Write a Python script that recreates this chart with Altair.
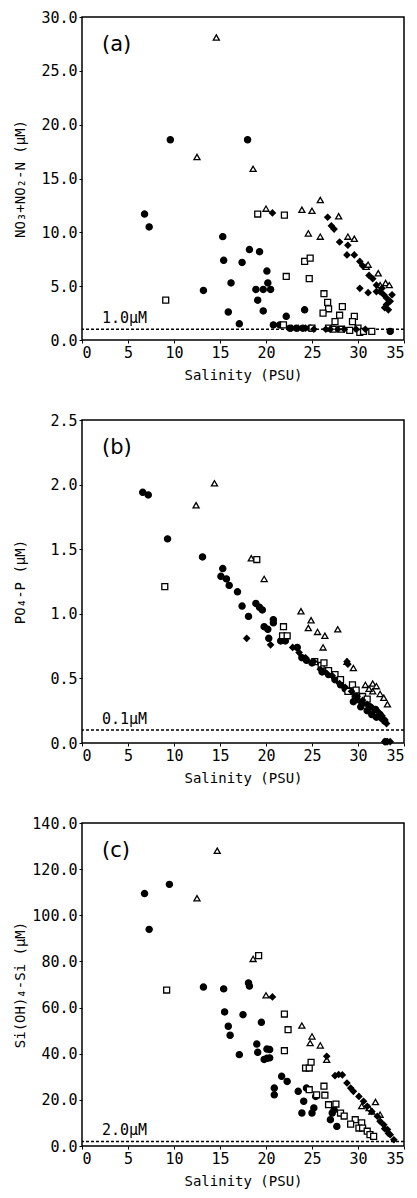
import altair as alt
import pandas as pd

# ---------------- Panel (a): NO3+NO2-N vs salinity ----------------
a_circle = [(6.8, 11.7), (7.3, 10.5), (9.6, 18.6), (18.0, 18.6), (13.2, 4.6), (15.3, 9.6),
            (15.4, 7.4), (16.2, 5.3), (15.9, 2.6), (17.1, 1.5), (17.4, 7.2), (18.2, 8.4),
            (19.3, 8.2), (18.9, 4.7), (19.1, 3.7), (19.7, 2.7), (20.1, 6.4), (19.7, 4.7),
            (20.2, 5.3), (20.5, 4.7), (20.8, 1.4), (21.5, 1.4), (22.2, 2.2), (24.2, 2.8),
            (22.6, 1.1), (23.3, 1.1), (24.0, 1.1), (24.8, 1.1), (33.5, 0.8)]
a_triangle = [(14.6, 28.1), (12.5, 17.0), (18.6, 15.9), (20.0, 12.2), (23.9, 12.1), (25.0, 12.0),
              (25.9, 13.0), (27.9, 11.5), (24.6, 9.9), (25.9, 9.6), (28.9, 9.6), (29.6, 9.4),
              (30.9, 6.8), (31.1, 7.0), (32.2, 6.2), (32.4, 5.1), (33.0, 5.3), (33.4, 5.1)]
a_square = [(9.1, 3.7), (19.1, 11.7), (22.0, 11.6), (22.2, 5.9), (24.2, 7.3), (24.8, 7.6),
            (24.7, 5.7), (26.3, 4.3), (26.7, 3.5), (26.8, 2.9), (26.2, 2.5), (28.3, 3.1),
            (28.0, 2.3), (27.5, 1.7), (29.6, 2.2), (29.4, 1.7), (21.9, 1.4), (25.0, 1.1),
            (26.8, 1.1), (27.3, 1.0), (28.2, 1.0), (29.1, 0.9), (30.0, 1.1), (30.2, 0.7),
            (30.6, 0.8), (31.5, 0.8)]
a_diamond = [(20.7, 11.8), (26.7, 11.4), (27.1, 10.6), (27.4, 10.3), (28.0, 9.1), (28.9, 8.8),
             (28.8, 7.9), (29.6, 7.9), (30.2, 7.3), (30.5, 6.9), (31.2, 6.0), (31.6, 5.7),
             (30.2, 4.8), (31.1, 4.4), (32.0, 5.1), (32.4, 4.5), (32.8, 4.2), (33.1, 3.9),
             (33.5, 3.6), (33.1, 3.3), (32.9, 3.0), (33.3, 2.8), (33.7, 4.2), (32.6, 4.8),
             (32.0, 4.5), (22.8, 1.1), (23.5, 1.1), (24.3, 1.1), (25.2, 1.0), (26.5, 1.0),
             (27.0, 1.0), (27.8, 1.0), (28.5, 1.0), (29.8, 1.0), (30.8, 1.0)]

# ---------------- Panel (b): PO4-P vs salinity ----------------
b_circle = [(6.6, 1.94), (7.2, 1.92), (9.3, 1.58), (13.1, 1.44), (15.3, 1.35), (15.1, 1.29),
            (15.7, 1.27), (16.0, 1.22), (16.9, 1.17), (17.4, 1.06), (18.1, 0.98), (18.9, 1.08),
            (19.3, 1.05), (19.6, 1.03), (20.8, 0.955), (20.8, 0.93), (19.8, 0.90), (20.2, 0.88),
            (20.3, 0.81), (21.6, 0.79), (22.1, 0.79), (23.4, 0.74), (23.9, 0.66), (24.4, 0.64),
            (25.0, 0.62), (26.1, 0.55), (26.8, 0.53), (27.5, 0.49), (28.1, 0.45), (28.6, 0.42),
            (29.1, 0.40), (29.7, 0.36), (30.2, 0.33), (30.8, 0.31), (31.3, 0.28), (31.9, 0.26),
            (32.4, 0.22), (32.9, 0.17), (29.5, 0.32), (30.3, 0.28), (31.0, 0.25), (31.5, 0.22),
            (32.0, 0.20), (32.6, 0.19), (33.0, 0.01)]
b_triangle = [(14.4, 2.01), (12.4, 1.84), (18.4, 1.43), (19.8, 1.27), (23.8, 1.02), (24.9, 0.95),
              (24.6, 0.89), (25.6, 0.86), (26.4, 0.83), (26.2, 0.74), (27.8, 0.88), (28.8, 0.63),
              (29.5, 0.58), (30.8, 0.45), (31.6, 0.46), (32.0, 0.44), (31.6, 0.40), (32.4, 0.38),
              (32.8, 0.35), (33.2, 0.30), (31.2, 0.42)]
b_square = [(9.0, 1.21), (19.0, 1.42), (21.9, 0.90), (21.8, 0.83), (22.3, 0.83), (25.3, 0.63),
            (26.0, 0.60), (26.3, 0.62), (26.8, 0.56), (27.5, 0.53), (28.1, 0.49), (29.4, 0.45),
            (28.9, 0.40), (29.8, 0.41), (30.5, 0.36), (31.0, 0.34)]
b_diamond = [(17.9, 0.81), (20.5, 0.76), (22.9, 0.74), (23.6, 0.70), (24.3, 0.66), (25.2, 0.63),
             (25.9, 0.57), (26.6, 0.54), (27.2, 0.52), (28.0, 0.46), (28.6, 0.43), (29.3, 0.40),
             (29.9, 0.36), (30.5, 0.33), (31.0, 0.30), (31.6, 0.27), (32.1, 0.25), (32.6, 0.21),
             (32.9, 0.18), (33.1, 0.15), (28.8, 0.63), (28.9, 0.61), (32.9, 0.01), (33.2, 0.01),
             (33.5, 0.01)]

# ---------------- Panel (c): Si(OH)4-Si vs salinity ----------------
c_circle = [(6.8, 109.4), (7.3, 93.9), (9.5, 113.4), (13.2, 68.9), (15.4, 68.1), (18.1, 70.7),
            (18.2, 69.3), (15.5, 58.1), (15.9, 51.9), (16.1, 48.0), (17.5, 56.9), (17.1, 39.6),
            (19.5, 53.6), (19.0, 44.2), (19.1, 40.6), (20.1, 42.0), (20.4, 41.8), (19.8, 37.5),
            (20.1, 38.0), (20.4, 38.2), (21.7, 30.2), (22.3, 28.0), (20.9, 25.1), (20.9, 22.2),
            (23.5, 23.7), (24.1, 19.4), (23.9, 14.3), (24.4, 25.1), (25.0, 14.3), (25.2, 16.5),
            (25.4, 21.5), (27.0, 11.4), (27.7, 8.5), (27.2, 14.3), (27.4, 15.7)]
c_triangle = [(14.7, 128.0), (12.5, 107.4), (18.6, 81.1), (20.0, 65.3), (23.9, 52.2), (25.0, 47.5),
              (24.8, 44.6), (25.9, 43.6), (26.6, 37.4), (30.4, 17.3), (31.2, 16.5), (31.5, 15.0),
              (31.9, 19.1), (32.4, 13.6)]
c_square = [(9.2, 67.6), (19.2, 82.5), (22.0, 57.2), (22.4, 50.4), (22.0, 41.3), (24.3, 33.8),
            (24.7, 33.8), (24.9, 36.3), (24.7, 24.4), (25.5, 22.2), (26.3, 25.9), (26.4, 22.0),
            (26.8, 17.9), (27.6, 18.2), (28.1, 14.3), (28.5, 13.0), (29.7, 11.4), (29.2, 9.5),
            (30.4, 10.0), (30.1, 7.8), (30.5, 7.8), (31.0, 6.4), (31.3, 4.9), (31.7, 4.2)]
c_diamond = [(20.7, 64.6), (26.6, 38.9), (27.5, 30.5), (27.9, 31.0), (28.3, 30.8), (28.8, 27.3),
             (29.2, 25.1), (29.5, 23.7), (30.1, 21.5), (30.6, 19.4), (31.0, 17.2), (31.5, 15.0),
             (32.1, 12.9), (32.4, 10.7), (32.8, 9.2), (33.2, 7.1), (33.5, 4.9), (33.9, 2.7),
             (32.9, 7.5), (33.3, 5.5)]

series_names = ["circle", "triangle", "square", "diamond"]
x_ticks = [0, 5, 10, 15, 20, 25, 30, 35]
a_ticks = [0, 5, 10, 15, 20, 25, 30]
b_ticks = [0, 0.5, 1.0, 1.5, 2.0, 2.5]
c_ticks = [0, 20, 40, 60, 80, 100, 120, 140]
thresholds = [1.0, 0.1, 2.0]
threshold_labels = ["1.0μM", "0.1μM", "2.0μM"]
panel_labels = ["(a)", "(b)", "(c)"]
y_titles = ["NO₃+NO₂-N  (μM)", "PO₄-P  (μM)", "Si(OH)₄-Si  (μM)"]

FONT = "DejaVu Sans Mono"


def build_df(groups):
    rows = []
    for name, pts in zip(series_names, groups):
        for s, v in pts:
            rows.append({"S": s, "value": v, "series": name})
    return pd.DataFrame(rows)


def panel(groups, ticks, thr, thr_label, plabel, ytitle):
    df = build_df(groups)
    ymax = ticks[-1]
    yscale = alt.Scale(domain=[0, ymax], nice=False, zero=True)
    yaxis = alt.Axis(values=ticks, format=".1f", title=ytitle, titleX=-62,
                     titleBaseline="middle", titleAngle=-90)
    xscale = alt.Scale(domain=[0, 35], nice=False)
    pts = alt.Chart(df).mark_point(filled=True, stroke="black", strokeWidth=1.3,
                                   opacity=1).encode(
        x=alt.X("S:Q", scale=xscale,
                axis=alt.Axis(values=x_ticks, format="d", title="Salinity (PSU)")),
        y=alt.Y("value:Q", scale=yscale, axis=yaxis),
        shape=alt.Shape("series:N", scale=alt.Scale(
            domain=series_names, range=["circle", "triangle-up", "square", "diamond"]),
            legend=None),
        fill=alt.Fill("series:N", scale=alt.Scale(
            domain=series_names, range=["black", "white", "white", "black"]),
            legend=None),
        size=alt.Size("series:N", scale=alt.Scale(
            domain=series_names, range=[38, 34, 30, 44]), legend=None),
    )
    tdf = pd.DataFrame({"value": [thr], "label": [thr_label]})
    rule = alt.Chart(tdf).mark_rule(strokeDash=[3, 2], color="black",
                                    strokeWidth=1.5).encode(
        y=alt.Y("value:Q", scale=yscale, axis=yaxis))
    tlabel = alt.Chart(tdf).mark_text(align="left", baseline="bottom", dy=-3,
                                      font=FONT, fontSize=15, color="black").encode(
        x=alt.value(20), y=alt.Y("value:Q", scale=yscale, axis=yaxis), text="label:N")
    pdf = pd.DataFrame({"label": [plabel]})
    plab = alt.Chart(pdf).mark_text(align="left", baseline="middle", font="DejaVu Sans",
                                    fontSize=21, color="black").encode(
        x=alt.value(20), y=alt.value(28), text="label:N")
    return alt.layer(rule, pts, tlabel, plab).properties(width=322, height=323)


pa = panel([a_circle, a_triangle, a_square, a_diamond], a_ticks, thresholds[0],
           threshold_labels[0], panel_labels[0], y_titles[0])
pb = panel([b_circle, b_triangle, b_square, b_diamond], b_ticks, thresholds[1],
           threshold_labels[1], panel_labels[1], y_titles[1])
pc = panel([c_circle, c_triangle, c_square, c_diamond], c_ticks, thresholds[2],
           threshold_labels[2], panel_labels[2], y_titles[2])

chart = alt.vconcat(pa, pb, pc, spacing=29).properties(
    padding={"left": 4, "top": 1, "right": 2, "bottom": 2}
).configure_view(
    stroke="black", strokeWidth=1.5
).configure_axis(
    grid=False, domain=False, ticks=True, tickSize=3, tickColor="black",
    labelFont=FONT, labelFontSize=15, labelColor="black", labelPadding=2,
    titleFont=FONT, titleFontSize=14, titleColor="black", titleFontWeight="normal",
).configure_axisX(titlePadding=8)

chart.save("out.html", embed_options={"renderer": "svg", "actions": False})
